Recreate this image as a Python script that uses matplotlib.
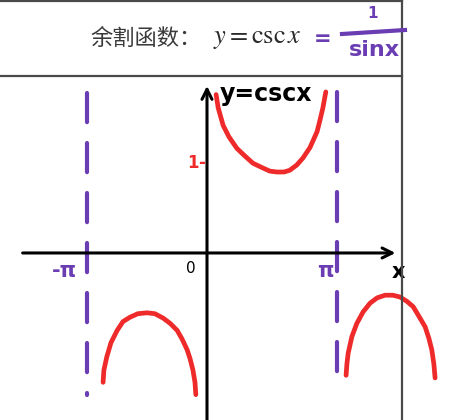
import matplotlib
matplotlib.use("Agg")
import matplotlib.pyplot as plt
from matplotlib.lines import Line2D

# hand-drawn branches of y = csc x
mid_x = [0.22, 0.27, 0.39, 0.53, 0.72, 0.92, 1.11, 1.33, 1.52, 1.69, 1.86,
         2.00, 2.17, 2.32, 2.49, 2.66, 2.73, 2.80, 2.87]
mid_y = [1.80, 1.65, 1.45, 1.32, 1.19, 1.10, 1.02, 0.97, 0.93, 0.92, 0.92,
         0.94, 1.00, 1.08, 1.20, 1.38, 1.51, 1.65, 1.83]
left_x = [-2.51, -2.49, -2.42, -2.32, -2.17, -2.03, -1.86, -1.67, -1.45, -1.26,
          -1.06, -0.89, -0.72, -0.60, -0.48, -0.41, -0.34, -0.29, -0.27]
left_y = [-1.47, -1.33, -1.18, -1.02, -0.88, -0.78, -0.73, -0.69, -0.68, -0.69,
          -0.74, -0.80, -0.88, -0.98, -1.10, -1.20, -1.33, -1.47, -1.61]
right_x = [3.36, 3.38, 3.41, 3.50, 3.62, 3.77, 3.94, 4.11, 4.30, 4.49,
           4.66, 4.83, 4.98, 5.12, 5.27, 5.36, 5.43, 5.48, 5.51]
right_y = [-1.39, -1.26, -1.14, -0.95, -0.80, -0.67, -0.57, -0.51, -0.48, -0.48,
           -0.50, -0.55, -0.61, -0.72, -0.84, -0.97, -1.10, -1.26, -1.42]

asym_x = [-2.90, 3.14]
asym_top = [1.82, 1.83]
asym_bot = [-1.61, -1.56]

RED = "#ee2a2a"
PURPLE = "#6b3db3"


def main():
    fig = plt.figure(figsize=(4.5, 4.2), dpi=100)
    ax = fig.add_axes([0, 0, 1, 344 / 420])
    ax.set_xlim(-5.0, 5.87)
    ax.set_ylim(-1.898, 2.011)
    ax.axis("off")

    # axes drawn by hand
    ax.annotate("", xy=(4.62, 0), xytext=(-4.52, 0),
                arrowprops=dict(arrowstyle="->", lw=2.2, color="black",
                                mutation_scale=18))
    ax.annotate("", xy=(0, 1.93), xytext=(0, -1.95),
                arrowprops=dict(arrowstyle="->", lw=2.2, color="black",
                                mutation_scale=18))

    # asymptotes
    for xa, t, b in zip(asym_x, asym_top, asym_bot):
        ax.plot([xa, xa], [t, b], color=PURPLE, lw=3.0, dashes=(7, 5),
                solid_capstyle="round", dash_capstyle="round")

    # curves
    for xs, ys in [(mid_x, mid_y), (left_x, left_y), (right_x, right_y)]:
        ax.plot(xs, ys, color=RED, lw=3.4, solid_capstyle="round",
                solid_joinstyle="round")

    # labels
    ax.text(-3.45, -0.2, "-π", color=PURPLE, fontsize=15, fontweight="bold",
            ha="center", va="center")
    ax.text(2.85, -0.2, "π", color=PURPLE, fontsize=15, fontweight="bold",
            ha="center", va="center")
    ax.text(-0.39, -0.18, "0", color="black", fontsize=11,
            ha="center", va="center")
    ax.text(4.62, -0.22, "x", color="black", fontsize=15, fontweight="bold",
            ha="center", va="center")
    ax.text(0.3, 1.81, "y=cscx", color="black", fontsize=17, fontweight="bold",
            ha="left", va="center")
    ax.text(-0.33, 1.02, "1", color=RED, fontsize=12, fontweight="bold",
            ha="center", va="center")
    ax.text(-0.12, 1.02, "-", color=RED, fontsize=12, fontweight="bold",
            ha="center", va="center")

    # header box
    lc = "#4a4a4a"
    fig.add_artist(Line2D([0, 402 / 450], [0.998, 0.998], color=lc, lw=1.6))
    fig.add_artist(Line2D([0, 402 / 450], [1 - 76 / 420, 1 - 76 / 420], color=lc, lw=1.6))
    fig.add_artist(Line2D([402 / 450, 402 / 450], [0, 1], color=lc, lw=1.6))

    fig.text(90 / 450, 1 - 38 / 420, "余割函数：", family=["Noto Sans CJK SC", "DejaVu Sans"],
             fontsize=16, color="#3a3a3a", ha="left", va="center")
    fig.text(213 / 450, 1 - 38 / 420, r"$y=\mathrm{csc}\,x$", fontsize=19,
             color="#2a2a2a", ha="left", va="center",
             math_fontfamily="stix")
    fig.text(323 / 450, 1 - 39 / 420, "=", color=PURPLE, fontsize=15,
             fontweight="bold", ha="center", va="center")
    fig.text(373 / 450, 1 - 14 / 420, "1", color=PURPLE, fontsize=11,
             fontweight="bold", ha="center", va="center")
    fig.add_artist(Line2D([342 / 450, 405 / 450], [1 - 34 / 420, 1 - 30 / 420],
                          color=PURPLE, lw=3))
    fig.text(374 / 450, 1 - 50 / 420, "sinx", color=PURPLE, fontsize=16,
             fontweight="bold", ha="center", va="center")

    fig.savefig("out.png", dpi=100)


if __name__ == "__main__":
    main()
